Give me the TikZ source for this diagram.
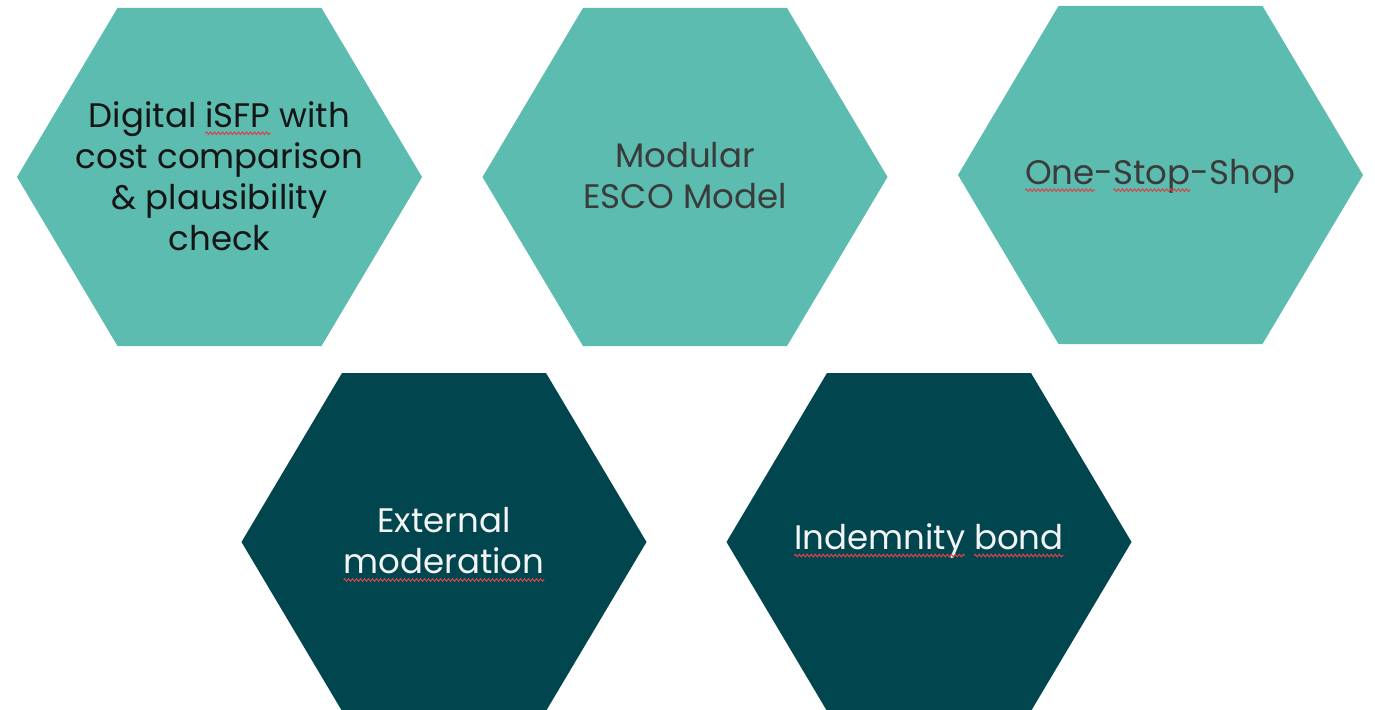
\documentclass[tikz,border=0pt]{standalone}
\usepackage{fontspec}
\setmainfont{Poppins}
\usetikzlibrary{decorations.pathmorphing}
\definecolor{hexlight}{HTML}{5BBCAF}
\definecolor{hexdark}{HTML}{01464F}
\definecolor{inkdark}{HTML}{151515}
\definecolor{inkgray}{HTML}{3B3B3B}
\definecolor{inklight}{HTML}{F4F4F4}
\definecolor{spellred}{HTML}{D8444A}
\tikzset{
  hexlabel/.style={align=center, font=\fontsize{34}{41}\selectfont, inner sep=0pt},
  squiggle/.style={draw=spellred, line width=1pt, overlay,
    decorate, decoration={zigzag, segment length=4pt, amplitude=1.3pt}},
}
% word with a wavy underline
\newcommand\wavyword[1]{\tikz[baseline=(w.base)]{%
  \node[inner sep=0pt, outer sep=0pt] (w) {#1};%
  \draw[squiggle] ([yshift=-6pt]w.base west) -- ([yshift=-6pt]w.base east);}}
% hexagon centred at (#1,#2), fill colour #3
\newcommand\hexagon[3]{%
  \fill[#3] (#1,#2) ++(-202.5,0) -- ++(100.5,-169) -- ++(204,0)
    -- ++(100.5,169) -- ++(-100.5,169) -- ++(-204,0) -- cycle;}
\begin{document}
\begin{tikzpicture}[x=1pt, y=-1pt]
  \useasboundingbox (0,0) rectangle (1375,709);
  \clip (0,0) rectangle (1375,709);
  \fill[white] (0,0) rectangle (1375,709);

  \hexagon{219.5}{177}{hexlight}
  \hexagon{685}{177}{hexlight}
  \hexagon{1160.5}{175}{hexlight}
  \hexagon{444}{542}{hexdark}
  \hexagon{929}{542}{hexdark}

  \node[hexlabel, text=inkdark] (isfp) at (219.5,176)
    {Digital \wavyword{iSFP} with\\cost comparison\\\& plausibility\\check};
  \node[hexlabel, text=inkgray] (esco) at (685,176)
    {Modular\\ESCO Model};
  \node[hexlabel, text=inkgray] (oss) at (1160.5,176)
    {\wavyword{One}-\wavyword{Stop}-Shop};
  \node[hexlabel, text=inklight] (moder) at (444,541)
    {External\\\wavyword{moderation}};
  \node[hexlabel, text=inklight] (bond) at (929,541)
    {\wavyword{Indemnity} \wavyword{bond}};
\end{tikzpicture}
\end{document}
